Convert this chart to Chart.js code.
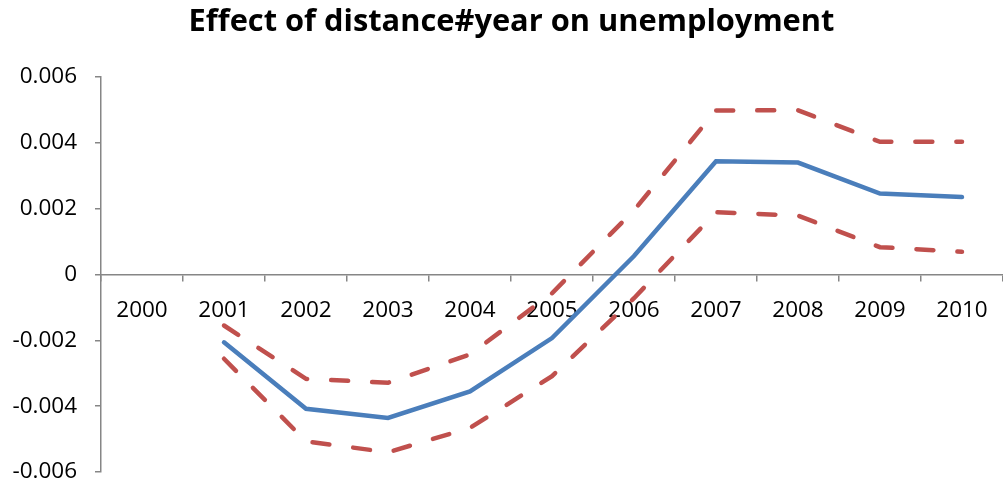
<!DOCTYPE html>
<html>
<head>
<meta charset="utf-8">
<script src="https://cdn.jsdelivr.net/npm/chart.js@4/dist/chart.umd.min.js"></script>
<style>
  html, body { margin: 0; padding: 0; background: #fff; }
  #wrap { width: 1003px; height: 483px; }
</style>
</head>
<body>
<div id="wrap"><canvas id="chart"></canvas></div>
<script>
// years on the category axis
const years = ['2000','2001','2002','2003','2004','2005','2006','2007','2008','2009','2010'];

// point estimate and the two bounds (no value for 2000)
const estimate = [null, -0.00206, -0.00408, -0.00436, -0.00355, -0.00193, 0.00056, 0.00344, 0.00340, 0.00246, 0.00235];
const upperCI  = [null, -0.00155, -0.00317, -0.00329, -0.00243, -0.00057, 0.00195, 0.00498, 0.00499, 0.00403, 0.00403];
const lowerCI  = [null, -0.00256, -0.00507, -0.00540, -0.00466, -0.00309, -0.00072, 0.00189, 0.00179, 0.00083, 0.00069];

const yTicks = [-0.006, -0.004, -0.002, 0, 0.002, 0.004, 0.006];

const axisGrey = '#868686';
const blue = '#4A7EBB';
const red  = '#C0504D';
const font = "'Open Sans', sans-serif";

function fmt(v) {
  if (Math.abs(v) < 1e-9) return '0';
  return (v < 0 ? '-' : '') + Math.abs(v).toFixed(3);
}

const dashed = {
  borderColor: red,
  borderWidth: 4.5,
  borderDash: [17, 24],
  borderCapStyle: 'round',
  pointRadius: 0,
  fill: false,
  tension: 0
};

// push the title a little to the right of the canvas centre
const titleNudge = {
  id: 'titleNudge',
  afterLayout(chart) {
    if (chart.titleBlock) {
      chart.titleBlock.left += 20;
    }
  }
};

new Chart(document.getElementById('chart'), {
  type: 'line',
  data: {
    labels: years,
    datasets: [
      { label: 'upper', data: upperCI, ...dashed },
      { label: 'lower', data: lowerCI, ...dashed },
      {
        label: 'estimate',
        data: estimate,
        borderColor: blue,
        borderWidth: 4.5,
        borderCapStyle: 'round',
        pointRadius: 0,
        fill: false,
        tension: 0
      }
    ]
  },
  plugins: [titleNudge],
  options: {
    responsive: true,
    maintainAspectRatio: false,
    animation: false,
    layout: { padding: { left: 0, right: 0, top: 0, bottom: 11 } },
    plugins: {
      legend: { display: false },
      tooltip: { enabled: false },
      title: {
        display: true,
        text: 'Effect of distance#year on unemployment',
        color: '#000',
        font: { family: font, size: 30.8, weight: 'bold' },
        padding: { top: 4, bottom: 36 }
      }
    },
    scales: {
      x: {
        type: 'category',
        position: { y: 0 },
        offset: true,
        afterFit: axis => {
          axis.height = 0;
          axis.paddingLeft = 0;
          axis.paddingRight = 0;
        },
        grid: {
          offset: true,
          drawOnChartArea: false,
          drawTicks: true,
          tickLength: 6,
          color: axisGrey,
          lineWidth: 1.5
        },
        border: { display: true, color: axisGrey, width: 1.5 },
        ticks: {
          color: '#000',
          font: { family: font, size: 22.5 },
          padding: 17,
          maxRotation: 0,
          autoSkip: false
        }
      },
      y: {
        min: -0.006,
        max: 0.006,
        afterBuildTicks: axis => { axis.ticks = yTicks.map(v => ({ value: v })); },
        afterFit: axis => {
          axis.width = 101;
          axis.paddingTop = 0;
          axis.paddingBottom = 0;
        },
        grid: {
          drawOnChartArea: false,
          drawTicks: true,
          tickLength: 6,
          color: axisGrey,
          lineWidth: 1.5
        },
        border: { display: true, color: axisGrey, width: 1.5 },
        ticks: {
          color: '#000',
          font: { family: font, size: 22.5 },
          padding: 18,
          callback: v => fmt(v)
        }
      }
    }
  }
});
</script>
</body>
</html>
